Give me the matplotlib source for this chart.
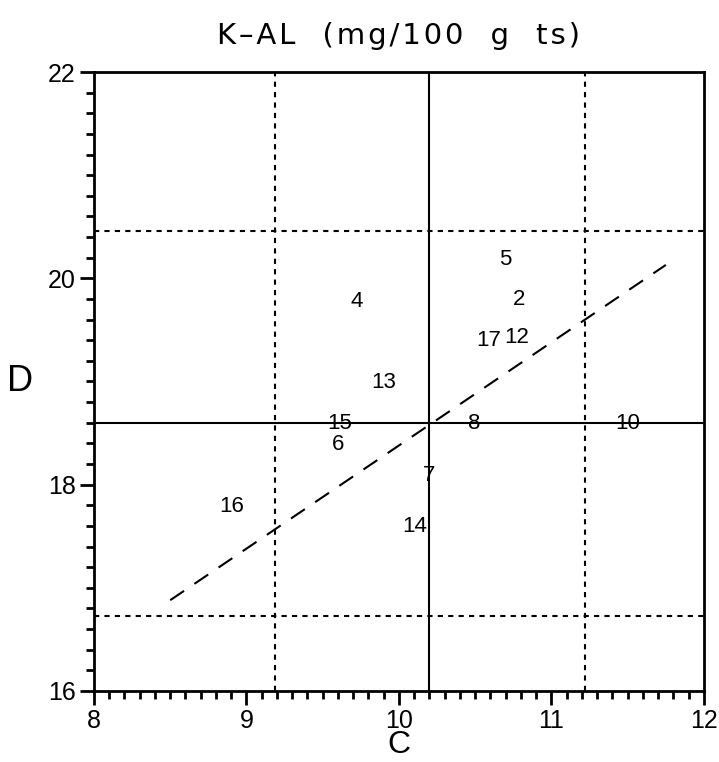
import numpy as np
import matplotlib
matplotlib.use('Agg')
import matplotlib.pyplot as plt
from matplotlib.ticker import MultipleLocator

plt.rcParams['font.family'] = ['Liberation Sans', 'DejaVu Sans']

# Sample numbers and their (C, D) values
labels = ['2', '4', '5', '6', '7', '8', '10', '12', '13', '14', '15', '16', '17']
c_vals = [10.79, 9.72, 10.70, 9.60, 10.20, 10.49, 11.50, 10.77, 9.90, 10.10, 9.61, 8.90, 10.59]
d_vals = [19.79, 19.78, 20.18, 18.39, 18.09, 18.59, 18.59, 19.43, 18.99, 17.59, 18.59, 17.79, 19.40]

# Means and +/- one standard deviation limits
c_mean, c_lo, c_hi = 10.20, 9.19, 11.22
d_mean, d_lo, d_hi = 18.60, 16.73, 20.46

# Regression line end points
reg_c = [8.50, 11.75]
reg_d = [16.88, 20.13]

title = 'K\u2013AL  (mg/100  g  ts)'

fig = plt.figure(figsize=(7.19, 7.62), dpi=100)
ax = fig.add_axes([0.1307, 0.0932, 0.8484, 0.8123])

for c, d, t in zip(c_vals, d_vals, labels):
    ax.text(c, d, t, ha='center', va='center', fontsize=16)

ax.axvline(c_mean, color='black', lw=1.5)
ax.axhline(d_mean, color='black', lw=1.5)
for c in (c_lo, c_hi):
    ax.axvline(c, color='black', lw=1.5, ls=(0, (2.5, 2.5)))
for d in (d_lo, d_hi):
    ax.axhline(d, color='black', lw=1.5, ls=(0, (2.5, 2.5)))
ax.plot(reg_c, reg_d, color='black', lw=1.5, ls=(0, (8, 6)))

ax.set_xlim(8, 12)
ax.set_ylim(16, 22)
ax.xaxis.set_major_locator(MultipleLocator(1))
ax.xaxis.set_minor_locator(MultipleLocator(0.1))
ax.yaxis.set_major_locator(MultipleLocator(2))
ax.yaxis.set_minor_locator(MultipleLocator(0.2))
ax.tick_params(which='major', direction='out', length=10, width=2, labelsize=18, pad=3)
ax.tick_params(which='minor', direction='out', length=6, width=2)
for s in ax.spines.values():
    s.set_linewidth(2)

ax.set_xlabel('C', fontsize=23, labelpad=-2)
ax.set_ylabel('D', fontsize=26, rotation=0, labelpad=20, va='center')
# hair spaces between letters give the wide lettering of the heading
ax.set_title('\u200a'.join(title), fontsize=21, pad=20, family=['DejaVu Sans'])

fig.savefig('out.png', dpi=100)
